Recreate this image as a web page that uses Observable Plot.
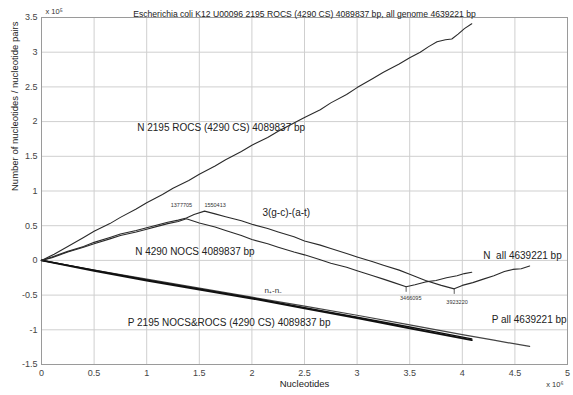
<!DOCTYPE html>
<html><head><meta charset="utf-8">
<script src="https://cdn.jsdelivr.net/npm/d3@7"></script>
<script src="https://cdn.jsdelivr.net/npm/@observablehq/plot@0.6"></script>
<style>
body{margin:0;background:#fff}
#chart svg{font-family:"Liberation Sans",Arial,sans-serif}
</style>
</head><body><div id="chart"></div>
<script>
// x in units of 10^6 nucleotides, y in units of 10^5
const title = "Escherichia coli K12 U00096 2195 ROCS (4290 CS) 4089837 bp, all genome 4639221 bp";
const xTicks = [0,0.5,1,1.5,2,2.5,3,3.5,4,4.5,5];
const yTicks = [-1.5,-1,-0.5,0,0.5,1,1.5,2,2.5,3,3.5];

// N 2195 ROCS (4290 CS)
const rocsX = [0,0.12,0.25,0.4,0.5,0.65,0.75,0.9,1.0,1.15,1.25,1.4,1.5,1.65,1.75,1.9,2.0,2.15,2.25,2.4,2.5,2.65,2.75,2.9,3.0,3.15,3.25,3.4,3.5,3.6,3.68,3.76,3.84,3.9,3.96,4.02,4.09];
const rocsY = [0,0.09,0.2,0.33,0.42,0.53,0.62,0.74,0.83,0.95,1.04,1.15,1.24,1.36,1.45,1.57,1.66,1.77,1.86,1.98,2.06,2.17,2.27,2.39,2.49,2.62,2.71,2.83,2.92,3.0,3.08,3.15,3.18,3.19,3.26,3.34,3.41];

// 3(g-c)-(a-t), all genome
const allX = [0,0.1,0.25,0.4,0.5,0.65,0.75,0.9,1.0,1.1,1.2,1.3,1.377,1.45,1.55,1.65,1.75,1.9,2.0,2.15,2.25,2.4,2.5,2.65,2.75,2.9,3.0,3.15,3.25,3.4,3.5,3.65,3.8,3.923,4.0,4.1,4.2,4.3,4.4,4.48,4.56,4.64];
const allY = [0,0.05,0.13,0.2,0.26,0.33,0.38,0.43,0.47,0.51,0.55,0.58,0.61,0.66,0.71,0.67,0.63,0.57,0.52,0.46,0.41,0.34,0.28,0.22,0.17,0.1,0.05,-0.02,-0.07,-0.14,-0.2,-0.29,-0.36,-0.41,-0.36,-0.32,-0.27,-0.22,-0.16,-0.13,-0.12,-0.08];

// N 4290 NOCS
const nocsX = [0,0.1,0.25,0.4,0.5,0.65,0.75,0.9,1.0,1.1,1.2,1.3,1.377,1.5,1.65,1.75,1.9,2.0,2.15,2.25,2.4,2.5,2.65,2.75,2.9,3.0,3.15,3.25,3.35,3.466,3.55,3.65,3.75,3.85,3.95,4.02,4.09];
const nocsY = [0,0.04,0.12,0.19,0.24,0.31,0.36,0.41,0.45,0.49,0.53,0.56,0.6,0.54,0.48,0.43,0.36,0.3,0.24,0.19,0.12,0.08,0.01,-0.04,-0.1,-0.15,-0.22,-0.27,-0.32,-0.38,-0.35,-0.31,-0.29,-0.25,-0.22,-0.19,-0.17];

// P 2195 NOCS & ROCS (two overlapping curves)
const pNocsX = [0,0.5,1.0,1.5,2.0,2.5,3.0,3.5,4.09];
const pNocsY = [0,-0.15,-0.29,-0.42,-0.55,-0.69,-0.83,-0.98,-1.15];
const pRocsY = [0,-0.14,-0.28,-0.41,-0.54,-0.68,-0.82,-0.96,-1.13];

// P all genome
const pAllX = [0,0.5,1.0,1.5,2.0,2.5,3.0,3.5,4.0,4.3,4.64];
const pAllY = [0,-0.14,-0.27,-0.4,-0.53,-0.66,-0.79,-0.93,-1.07,-1.15,-1.24];

// extremum annotations
const extremaLabels = ["1377705","1550413","3466095","3923220"];
const extremaX = [1.377705,1.550413,3.466095,3.92322];
const extremaY = [0.6,0.71,-0.38,-0.41];
const extremaLabelX = [1.33,1.65,3.51,3.95];
const extremaLabelY = [0.79,0.8,-0.55,-0.61];

// curve labels
const curveLabels = ["N 2195 ROCS (4290 CS) 4089837 bp","3(g-c)-(a-t)","N 4290 NOCS 4089837 bp","N  all 4639221 bp","P all 4639221 bp","P 2195 NOCS&ROCS (4290 CS) 4089837 bp"];
const curveLabelX = [0.91,2.1,0.89,4.2,4.28,0.82];
const curveLabelY = [1.91,0.68,0.13,0.07,-0.86,-0.9];

const zip = (xs, ys) => xs.map((x, i) => ({x, y: ys[i]}));
const lineStyle = {x: "x", y: "y", stroke: "#2a2a2a", strokeWidth: 1.1, curve: "linear"};

const lbls = curveLabels.map((t, i) => ({t, x: curveLabelX[i], y: curveLabelY[i]}));
const ext = extremaLabels.map((t, i) => ({t, x: extremaX[i], y: extremaY[i], lx: extremaLabelX[i], ly: extremaLabelY[i], low: i >= 2}));

const chart = Plot.plot({
  width: 573, height: 395,
  marginLeft: 41, marginRight: 6, marginTop: 17, marginBottom: 31,
  style: {fontFamily: "Liberation Sans, Arial, sans-serif", fontSize: "9px", color: "#333", background: "#fff"},
  x: {type: "linear", domain: [0, 5]},
  y: {type: "linear", domain: [-1.5, 3.5]},
  marks: [
    Plot.gridX(xTicks, {stroke: "#cfcfcf", strokeOpacity: 1}),
    Plot.gridY(yTicks, {stroke: "#cfcfcf", strokeOpacity: 1}),
    Plot.frame({stroke: "#9a9a9a"}),
    Plot.axisX(xTicks, {tickSize: 0, tickPadding: 5, tickFormat: d => String(d), label: null, fill: "#444"}),
    Plot.axisY(yTicks, {tickSize: 0, tickPadding: 4, tickFormat: d => String(d), label: null, fill: "#444"}),
    Plot.line(zip(pAllX, pAllY), {...lineStyle, stroke: "#444", strokeWidth: 1.2}),
    Plot.line(zip(pNocsX, pNocsY), {...lineStyle, stroke: "#111", strokeWidth: 1.8}),
    Plot.line(zip(pNocsX, pRocsY), {...lineStyle, stroke: "#111", strokeWidth: 1.4}),
    Plot.line(zip(rocsX, rocsY), lineStyle),
    Plot.line(zip(nocsX, nocsY), lineStyle),
    Plot.line(zip(allX, allY), lineStyle),
    Plot.ruleX(ext.filter(d => d.low), {x: "x", y1: "y", y2: d => d.y - 0.08, stroke: "#333", strokeWidth: 0.8}),
    Plot.text(ext, {x: "lx", y: "ly", text: "t", fontSize: 5.5, fill: "#333"}),
    Plot.text(lbls, {x: "x", y: "y", text: "t", textAnchor: "start", fontSize: 10, fill: "#222"}),
    Plot.text(["n₊-n₋"], {x: () => 2.12, y: () => -0.43, text: d => d, textAnchor: "start", fontSize: 8, fill: "#333"}),
    Plot.text([title], {frameAnchor: "top", dy: -7, fontSize: 8.6, fill: "#222"}),
    Plot.text(["x 10⁵"], {frameAnchor: "top-left", dx: 4, dy: -9, fontSize: 7.5, fill: "#333", textAnchor: "start"}),
    Plot.text(["x 10⁶"], {frameAnchor: "bottom-right", dx: -4, dy: 22, fontSize: 7.5, fill: "#333", textAnchor: "end"}),
    Plot.text(["Nucleotides"], {frameAnchor: "bottom", dy: 22, fontSize: 9.5, fill: "#222"}),
    Plot.text(["Number of nucleotides / nucleotide pairs"], {frameAnchor: "left", dx: -27, rotate: -90, fontSize: 9.5, fill: "#222"}),
  ]
});
document.getElementById("chart").append(chart);
</script>
</body></html>
